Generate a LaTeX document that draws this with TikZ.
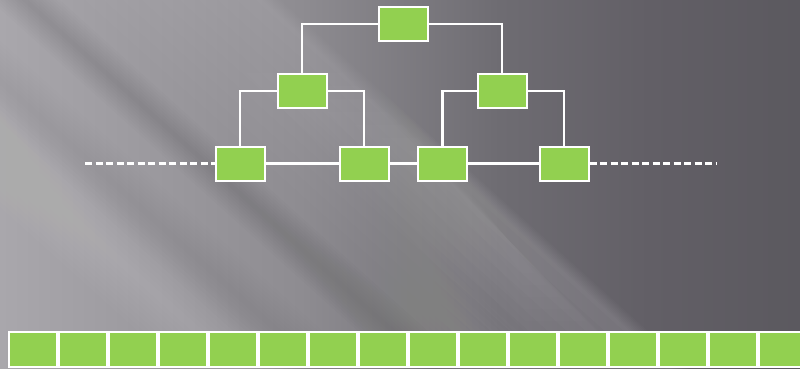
\documentclass[tikz,border=0pt]{standalone}
\definecolor{bgA}{HTML}{A9A7AC}
\definecolor{bgB}{HTML}{8E8C91}
\definecolor{bgC}{HTML}{6E6C72}
\definecolor{bgD}{HTML}{625F66}
\definecolor{bgE}{HTML}{5B595F}
\definecolor{leaf}{HTML}{92D050}
\pgfdeclarehorizontalshading{bgshade}{100bp}{color(0bp)=(bgA); color(25bp)=(bgA); color(43.75bp)=(bgB); color(56.25bp)=(bgC); color(65.6bp)=(bgD); color(75bp)=(bgE); color(100bp)=(bgE)}
\tikzset{
  box/.style={rectangle, draw=white, line width=2pt, fill=leaf, minimum width=49pt, minimum height=34pt, inner sep=0pt},
  cell/.style={rectangle, draw=white, line width=2pt, fill=leaf, minimum width=48pt, minimum height=35pt, inner sep=0pt},
  link/.style={draw=white, line width=2.4pt},
  dashlink/.style={draw=white, line width=2.4pt, dash pattern=on 7pt off 3.5pt}
}
% band between v1 and v2 where v = x - y/0.9
\newcommand{\myband}[3]{\fill[#3] (#1,0) -- (#2,0) -- ({#2+410},369) -- ({#1+410},369) -- cycle;}
\newcommand{\softband}[4]{%
  \foreach \k in {1,...,10}{\myband{#1-#2*\k/10}{#1+#2*\k/10}{#3, fill opacity=#4/10}}}
% part of a band between v1 and v2, limited to rows y1..y2
\newcommand{\bandpart}[5]{\fill[#5] ({#1+#3/0.9},#3) -- ({#2+#3/0.9},#3) -- ({#2+#4/0.9},#4) -- ({#1+#4/0.9},#4) -- cycle;}
\begin{document}
\begin{tikzpicture}[x=1pt, y=-1pt]
\useasboundingbox (0,0) rectangle (800,369);
\begin{scope}
  \clip (0,0) rectangle (800,369);
  \shade[shading=bgshade] (0,0) rectangle (800,369);
  % light beam with soft lower-right edge
  \foreach \k in {1,...,10}{\myband{275-190*\k/10}{260+2*\k}{white, fill opacity=0.014}}
  % extra highlight in the middle of the beam
  \foreach \k in {1,...,8}{
    \bandpart{272-100*(9-\k)/8}{268+\k/2}{60+13*\k}{369-12*\k}{white, fill opacity=0.011}}
  \softband{90}{60}{white}{0.06}
  \softband{25}{35}{black}{0.07}
  \softband{-90}{45}{black}{0.05}
  \softband{-170}{60}{white}{0.10}
  \softband{-260}{40}{white}{0.04}
\end{scope}

% tree nodes
\node[box] (t)  at (403.5,24) {};
\node[box] (la) at (302,91) {};
\node[box] (lb) at (502,91) {};
\node[box] (c1) at (240,163.5) {};
\node[box] (c2) at (364,163.5) {};
\node[box] (c3) at (442.5,163.5) {};
\node[box] (c4) at (564,163.5) {};
\coordinate (dl) at (85,163.5);
\coordinate (dr) at (716,163.5);

% connectors
\draw[link] (t.west) -| (la.north);
\draw[link] (t.east) -| (lb.north);
\draw[link] (la.west) -| (c1.north);
\draw[link] (la.east) -| (c2.north);
\draw[link] (lb.west) -| (c3.north);
\draw[link] (lb.east) -| (c4.north);
\draw[link] (c1.east) -- (c2.west);
\draw[link] (c2.east) -- (c3.west);
\draw[link] (c3.east) -- (c4.west);
\draw[dashlink] (dl) -- (c1.west);
\draw[dashlink] (c4.east) -- (dr);

% bottom row
\begin{scope}
  \clip (0,0) rectangle (800,369);
  \foreach \i in {0,...,15}{
    \node[cell] (b\i) at ({33+50*\i},349.5) {};
  }
\end{scope}
\end{tikzpicture}
\end{document}
